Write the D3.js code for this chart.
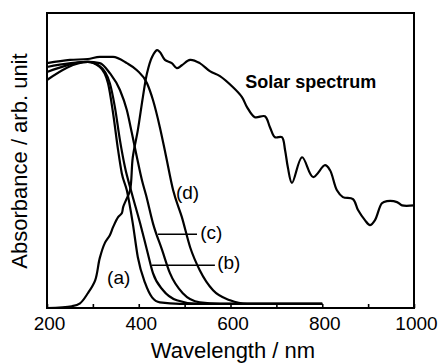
<!DOCTYPE html>
<html>
<head>
<meta charset="utf-8">
<script src="https://cdn.jsdelivr.net/npm/d3@7"></script>
<style>
  html, body { margin: 0; padding: 0; background: #fff; }
  svg { display: block; font-family: "Liberation Sans", Arial, Helvetica, sans-serif; }
</style>
</head>
<body>
<svg id="chart"></svg>
<script>
// wavelength (nm), absorbance (arb.)
let curveA = [[200,0.773],[289,0.834],[315,0.817],[333,0.762],[344,0.661],[355,0.535],[363,0.457],[374,0.399],[387,0.287],[398,0.172],[414,0.084],[429,0.036],[446,0.019],[490,0.014],[800,0.014]];
let curveB = [[200,0.800],[289,0.834],[315,0.820],[337,0.762],[348,0.681],[359,0.569],[370,0.477],[383,0.399],[403,0.287],[418,0.196],[431,0.118],[453,0.060],[483,0.026],[527,0.014],[800,0.014]];
let curveC = [[200,0.817],[289,0.834],[315,0.830],[337,0.796],[359,0.739],[374,0.671],[385,0.593],[396,0.511],[407,0.433],[416,0.382],[431,0.287],[451,0.196],[468,0.118],[496,0.050],[533,0.019],[577,0.014],[800,0.014]];
let curveD = [[200,0.830],[250,0.841],[289,0.844],[315,0.851],[344,0.851],[374,0.830],[396,0.806],[418,0.762],[431,0.705],[446,0.613],[459,0.518],[475,0.399],[494,0.308],[512,0.206],[533,0.128],[562,0.060],[599,0.026],[636,0.014],[800,0.014]];
let solar = [[200,0.0],[254,0.006],[272,0.016],[289,0.05],[305,0.094],[315,0.169],[326,0.22],[337,0.247],[344,0.274],[355,0.308],[363,0.321],[366,0.342],[372,0.365],[381,0.399],[387,0.511],[398,0.603],[409,0.715],[418,0.796],[429,0.851],[440,0.874],[446,0.868],[457,0.841],[472,0.830],[483,0.813],[494,0.823],[512,0.841],[533,0.830],[555,0.803],[577,0.786],[605,0.749],[625,0.715],[636,0.681],[653,0.647],[675,0.650],[686,0.613],[697,0.579],[712,0.579],[719,0.535],[725,0.477],[734,0.424],[756,0.511],[780,0.444],[806,0.484],[817,0.467],[832,0.399],[845,0.376],[867,0.369],[878,0.332],[893,0.298],[904,0.281],[915,0.298],[930,0.355],[941,0.362],[963,0.359],[974,0.348],[1000,0.348]];

let xTicks = [200, 300, 400, 500, 600, 700, 800, 900, 1000];
let xLabels = [200, 400, 600, 800, 1000];

// label text, anchor [nm, value]; leader lines [nm1, nm2, value]
let curveLabels = [
  {text: '(a)', at: [331, 0.080]},
  {text: '(b)', at: [571, 0.131]},
  {text: '(c)', at: [534, 0.233]},
  {text: '(d)', at: [481, 0.369]}
];
let leaders = [[429, 566, 0.145], [442, 527, 0.250]];
let solarLabel = {text: 'Solar spectrum', at: [632, 0.746]};

let svgWidth = 438, svgHeight = 364;
let margin = {top: 13, right: 24, bottom: 56, left: 47};
let width = svgWidth - margin.left - margin.right;
let height = svgHeight - margin.top - margin.bottom;

let svg = d3.select('#chart').attr('width', svgWidth).attr('height', svgHeight);
svg.append('rect').attr('width', svgWidth).attr('height', svgHeight).attr('fill', '#fff');

let g = svg.append('g').attr('transform', `translate(${margin.left}, ${margin.top})`);

let x = d3.scaleLinear().domain([200, 1000]).range([0, width]);
let y = d3.scaleLinear().domain([0, 1]).range([height, 0]);

// bottom axis, ticks pointing inward
let xAxis = g.append('g').attr('transform', `translate(0, ${height})`)
  .call(d3.axisBottom(x).tickValues(xTicks).tickSize(-4).tickPadding(8.5)
    .tickFormat(d => xLabels.includes(d) ? d : ''));
xAxis.select('.domain').remove();
xAxis.selectAll('line').attr('stroke', '#000').attr('stroke-width', 1.6);
xAxis.selectAll('text').attr('font-size', 19).attr('fill', '#000').attr('dx', 2);

// frame
g.append('rect').attr('x', 0).attr('y', 0).attr('width', width).attr('height', height)
  .attr('fill', 'none').attr('stroke', '#000').attr('stroke-width', 2);

let absLine = d3.line().x(d => x(d[0])).y(d => y(d[1])).curve(d3.curveMonotoneX);
let solarLine = d3.line().x(d => x(d[0])).y(d => y(d[1])).curve(d3.curveCatmullRom.alpha(0.5));

[curveA, curveB, curveC, curveD].forEach(c => {
  g.append('path').datum(c)
    .attr('fill', 'none').attr('stroke', '#000').attr('stroke-width', 2.2)
    .attr('stroke-linejoin', 'round').attr('d', absLine);
});

g.append('path').datum(solar)
  .attr('fill', 'none').attr('stroke', '#000').attr('stroke-width', 2.2)
  .attr('stroke-linejoin', 'round').attr('d', solarLine);

// leaders
leaders.forEach(l => {
  g.append('line').attr('x1', x(l[0])).attr('x2', x(l[1]))
    .attr('y1', y(l[2])).attr('y2', y(l[2]))
    .attr('stroke', '#000').attr('stroke-width', 1.3);
});

curveLabels.forEach(l => {
  g.append('text').attr('x', x(l.at[0])).attr('y', y(l.at[1]))
    .attr('font-size', 19).attr('fill', '#000').text(l.text);
});

g.append('text').attr('x', x(solarLabel.at[0])).attr('y', y(solarLabel.at[1]))
  .attr('font-size', 18).attr('font-weight', 'bold').attr('fill', '#000').text(solarLabel.text);

// axis titles
svg.append('text').attr('x', 233).attr('y', 358).attr('text-anchor', 'middle')
  .attr('font-size', 22).attr('fill', '#000').text('Wavelength / nm');

svg.append('text').attr('transform', 'translate(27, 161) rotate(-90)').attr('text-anchor', 'middle')
  .attr('font-size', 22).attr('fill', '#000').text('Absorbance / arb. unit');
</script>
</body>
</html>
